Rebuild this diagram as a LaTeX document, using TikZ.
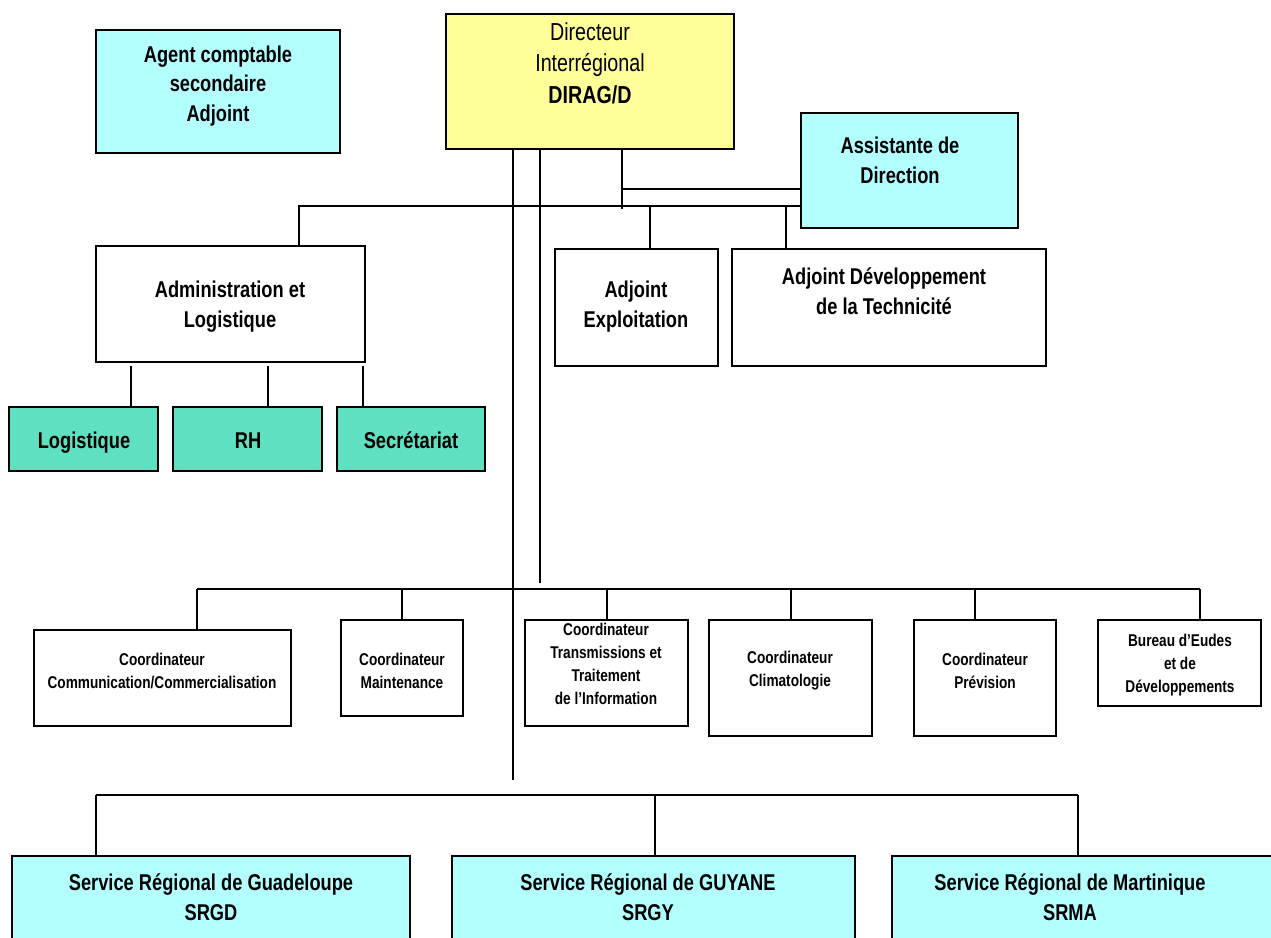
\documentclass[tikz,border=0pt]{standalone}
\usepackage{fontspec}
\setmainfont[FakeStretch=0.8]{Liberation Sans}
\usetikzlibrary{fit}

\definecolor{jaune}{RGB}{255,255,153}
\definecolor{bleuclair}{RGB}{179,255,255}
\definecolor{vert}{RGB}{95,224,192}

\tikzset{
    box/.style={draw, line width=1.1pt, inner sep=0pt},
    link/.style={line width=1pt},
    bigtxt/.style={align=center, inner sep=0pt, font=\bfseries\fontsize{13}{17}\selectfont},
    smalltxt/.style={align=center, inner sep=0pt, font=\bfseries\fontsize{9.7}{13}\selectfont},
}

\begin{document}
\begin{tikzpicture}[x=0.02cm, y=-0.02cm]
            \begin{scope}
                \clip (0,0) rectangle (1271,937);
                \fill [color=white] (0,0) rectangle (1271,937);

                % direction
                \node[box, fill=jaune, fit={(446,14) (734,149)}] (dir) {};
                \node[align=center, inner sep=0pt, font=\fontsize{14}{18}\selectfont] (dirT) at (590,63) {Directeur\\Interrégional\\\textbf{DIRAG/D}};

                \node[box, fill=bleuclair, fit={(96,30) (340,153)}] (agent) {};
                \node[bigtxt] (agentT) at (218,86) {Agent comptable\\secondaire\\Adjoint};

                \node[box, fill=bleuclair, fit={(801,113) (1018,228)}] (assist) {};
                \node[bigtxt] (assistT) at (900,160) {Assistante de\\Direction};

                % adjoints
                \node[box, fit={(96,246) (365,362)}] (admin) {};
                \node[bigtxt] (adminT) at (230,307) {Administration et\\Logistique};

                \node[box, fit={(555,249) (718,366)}] (adjex) {};
                \node[bigtxt] (adjexT) at (636,307) {Adjoint\\Exploitation};

                \node[box, fit={(732,249) (1046,366)}] (adjdev) {};
                \node[bigtxt] (adjdevT) at (884,291) {Adjoint Développement\\de la Technicité};

                \node[box, fill=vert, fit={(9,407) (158,471)}] (logist) {};
                \node[bigtxt, anchor=base] (logistT) at (84,448) {Logistique};
                \node[box, fill=vert, fit={(173,407) (322,471)}] (rh) {};
                \node[bigtxt, anchor=base] (rhT) at (248,448) {RH};
                \node[box, fill=vert, fit={(337,407) (485,471)}] (secr) {};
                \node[bigtxt, anchor=base] (secrT) at (411,448) {Secrétariat};

                % coordinateurs
                \node[box, fit={(34,630) (291,726)}] (comm) {};
                \node[smalltxt] (commT) at (162,671) {Coordinateur\\Communication/Commercialisation};

                \node[box, fit={(341,620) (463,716)}] (maint) {};
                \node[smalltxt] (maintT) at (402,671) {Coordinateur\\Maintenance};

                \node[box, fit={(525,620) (688,726)}] (trans) {};
                \node[smalltxt] (transT) at (606,664) {Coordinateur\\Transmissions et\\Traitement\\de l'Information};

                \node[box, fit={(709,620) (872,736)}] (clim) {};
                \node[smalltxt] (climT) at (790,671) {Coordinateur\\Climatologie};

                \node[box, fit={(914,620) (1056,736)}] (prev) {};
                \node[smalltxt] (prevT) at (985,671) {Coordinateur\\Prévision};

                \node[box, fit={(1098,620) (1261,706)}] (bureau) {};
                \node[smalltxt] (bureauT) at (1180,665) {Bureau d'Eudes\\et de\\Développements};

                % services regionaux
                \node[box, fill=bleuclair, fit={(12,856) (410,990)}] (srgd) {};
                \node[bigtxt] (srgdT) at (211,897) {Service Régional de Guadeloupe\\SRGD};
                \node[box, fill=bleuclair, fit={(452,856) (855,990)}] (srgy) {};
                \node[bigtxt] (srgyT) at (648,897) {Service Régional de GUYANE\\SRGY};
                \node[box, fill=bleuclair, fit={(892,856) (1300,990)}] (srma) {};
                \node[bigtxt] (srmaT) at (1070,897) {Service Régional de Martinique\\SRMA};

                % liaisons
                \coordinate (drop) at (513,780);
                \coordinate (cstop) at (540,583);
                \coordinate (astop) at (622,209);
                \coordinate (ajunc) at (622,189);
                \coordinate (busA) at (299,206);
                \coordinate (busC) at (197,589);
                \coordinate (busCe) at (1200,589);
                \coordinate (busS) at (96,795);
                \coordinate (busSe) at (1078,795);

                \draw[link] (dir.south -| drop) -- (drop);
                \draw[link] (dir.south -| cstop) -- (cstop);
                \draw[link] (dir.south -| astop) -- (astop);
                \draw[link] (ajunc) -- (ajunc -| assist.west);
                \draw[link] (admin.north -| busA) -- (busA) -- (busA -| assist.west);

                \foreach \x/\n in {650/adjex, 786/adjdev} {
                    \coordinate (t) at (\x,206);
                    \draw[link] (t) -- (t |- \n.north);
                }
                \foreach \x/\n in {131/logist, 268/rh, 363/secr} {
                    \coordinate (t) at (\x,366);
                    \draw[link] (t) -- (t |- \n.north);
                }

                \draw[link] (busC) -- (busCe);
                \foreach \x/\n in {197/comm, 402/maint, 607/trans, 791/clim, 975/prev, 1200/bureau} {
                    \coordinate (t) at (\x,589);
                    \draw[link] (t) -- (t |- \n.north);
                }

                \draw[link] (busS) -- (busSe);
                \foreach \x/\n in {96/srgd, 655/srgy, 1078/srma} {
                    \coordinate (t) at (\x,795);
                    \draw[link] (t) -- (t |- \n.north);
                }

            \end{scope}
        \end{tikzpicture}
\end{document}
